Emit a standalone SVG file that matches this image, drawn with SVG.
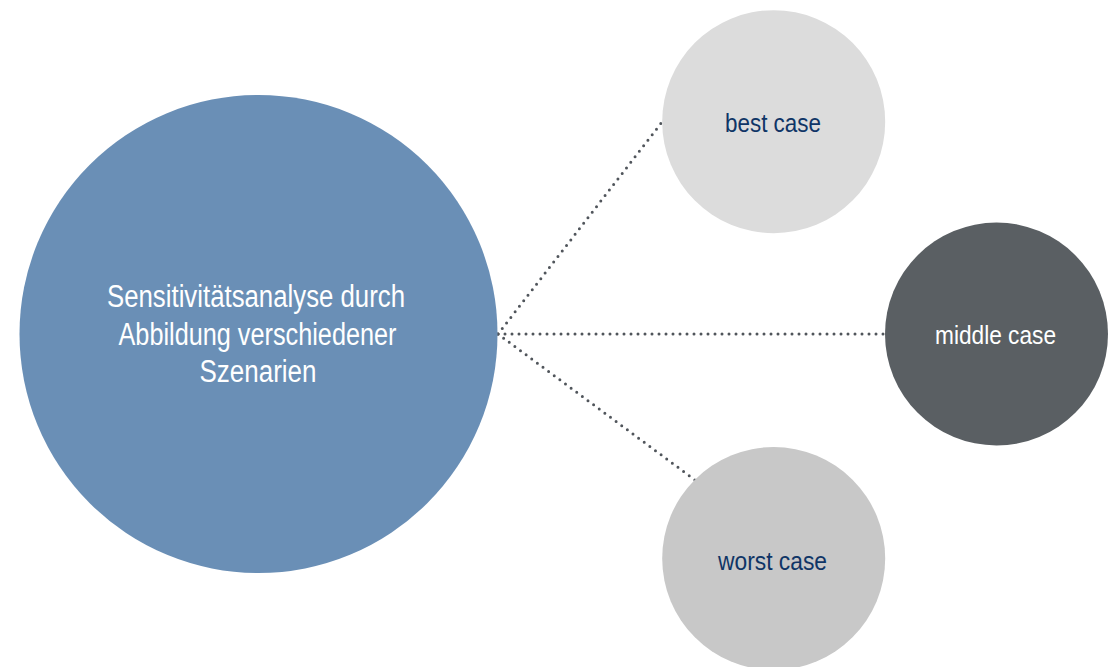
<svg xmlns="http://www.w3.org/2000/svg" width="1110" height="667" viewBox="0 0 1110 667">
  <style>
    .lbl { font-family: "Liberation Sans Narrow", "Liberation Sans", Arial, sans-serif; text-anchor: middle; }
    .main { font-size: 31px; fill: #ffffff; }
    .case { font-size: 26px; }
    .dark { fill: #0f3566; }
    .light { fill: #ffffff; }
    .conn { stroke: #50555b; stroke-width: 3; stroke-linecap: round; stroke-dasharray: 0 7; fill: none; }
  </style>
  <rect width="1110" height="667" fill="#ffffff"/>
  <g id="connectors">
    <line class="conn" x1="498" y1="334" x2="662" y2="122"/>
    <line class="conn" x1="498" y1="334" x2="885" y2="334"/>
    <line class="conn" x1="498" y1="334" x2="695" y2="480"/>
  </g>
  <g id="node-main">
    <circle cx="258.5" cy="334" r="239" fill="#6a8fb6"/>
    <text class="lbl main" x="256" y="307" textLength="298" lengthAdjust="spacingAndGlyphs">Sensitivitätsanalyse durch</text>
    <text class="lbl main" x="257.5" y="345" textLength="278" lengthAdjust="spacingAndGlyphs">Abbildung verschiedener</text>
    <text class="lbl main" x="258" y="382" textLength="117" lengthAdjust="spacingAndGlyphs">Szenarien</text>
  </g>
  <g id="node-best">
    <circle cx="773.7" cy="121.7" r="111.5" fill="#dcdcdc"/>
    <text class="lbl case dark" x="773" y="131.7" textLength="96" lengthAdjust="spacingAndGlyphs">best case</text>
  </g>
  <g id="node-middle">
    <circle cx="996.5" cy="334" r="111.5" fill="#5a5f63"/>
    <text class="lbl case light" x="995.5" y="344" textLength="121" lengthAdjust="spacingAndGlyphs">middle case</text>
  </g>
  <g id="node-worst">
    <circle cx="773.7" cy="558.5" r="111.5" fill="#c8c8c8"/>
    <text class="lbl case dark" x="772.5" y="570" textLength="109" lengthAdjust="spacingAndGlyphs">worst case</text>
  </g>
</svg>
